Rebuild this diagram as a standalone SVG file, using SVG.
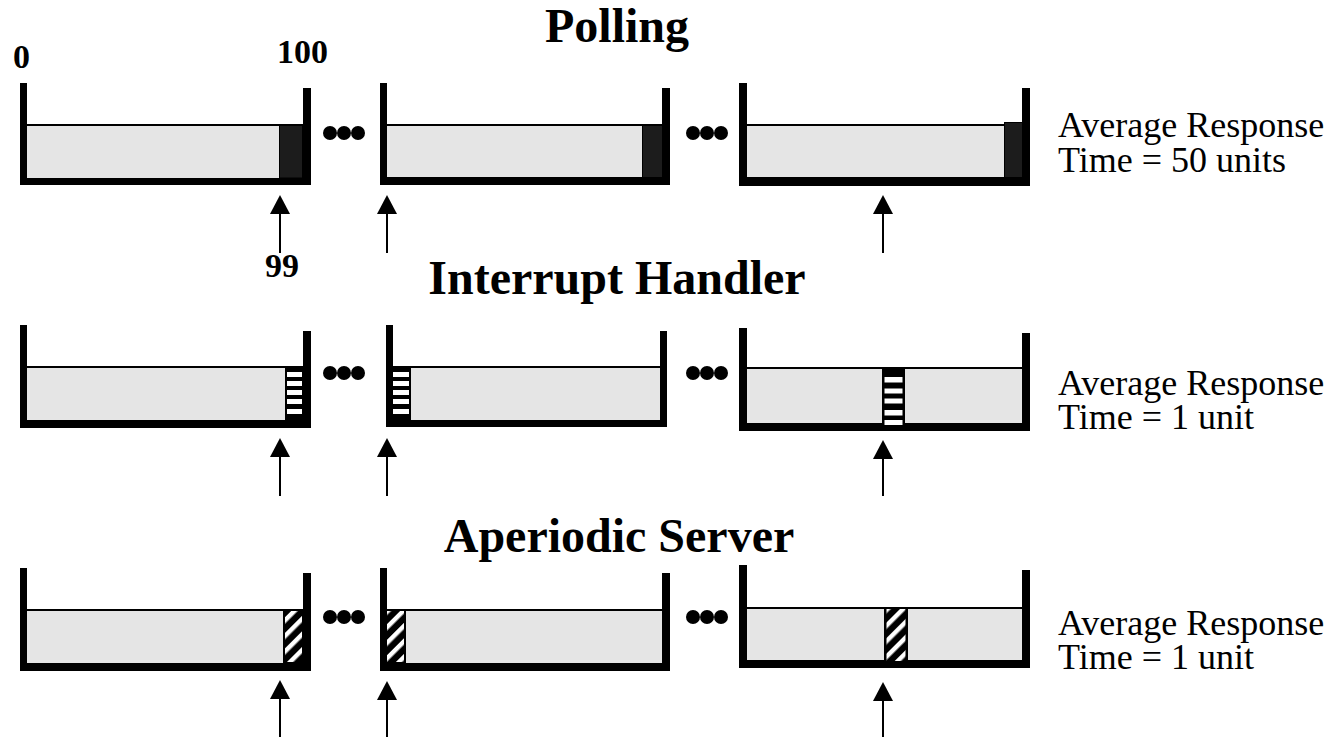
<svg xmlns="http://www.w3.org/2000/svg" width="1340" height="737" viewBox="0 0 1340 737">
<style>
.wall{fill:#000}
.fill{fill:#e5e5e5}
.top{stroke:#000;stroke-width:2}
.dark{fill:#1c1c1c;stroke:#000;stroke-width:1}
.blk{fill:#000}
.wb{fill:#fff}
.hat{fill:url(#hatch)}
.dot{fill:#000}
.arrow{stroke:#000;stroke-width:2;fill:none;marker-end:url(#ah)}
.title{font-family:"Liberation Serif",serif;font-weight:bold;font-size:48px;text-anchor:middle;fill:#000}
.num{font-family:"Liberation Serif",serif;font-weight:bold;font-size:34px;fill:#000}
.note{font-family:"Liberation Serif",serif;font-size:36px;fill:#000}
</style>
<defs>
<marker id="ah" markerUnits="userSpaceOnUse" markerWidth="20" markerHeight="20" refX="14" refY="10" orient="auto" viewBox="0 0 20 20">
<path d="M0,0 L19,10 L0,20 Z" fill="#000"/>
</marker>
<pattern id="hatch" patternUnits="userSpaceOnUse" width="11" height="11" patternTransform="rotate(45)">
<rect width="11" height="11" fill="#000"/>
<rect width="4.5" height="11" fill="#fff"/>
</pattern>
</defs>

<g id="titles">
<text class="title" x="617" y="42">Polling</text>
<text class="title" x="617" y="294">Interrupt Handler</text>
<text class="title" x="619" y="552">Aperiodic Server</text>
</g>

<g id="labels">
<text class="num" x="13" y="68">0</text>
<text class="num" x="277" y="63">100</text>
<text class="num" x="265" y="277">99</text>
</g>

<!-- Row 1: Polling -->
<g id="poll-c1">
<rect class="fill" x="27" y="125" width="276" height="53"/>
<line class="top" x1="27" y1="125" x2="303" y2="125"/>
<rect class="dark" x="279.5" y="125.5" width="23" height="52.5"/>
<rect class="wall" x="20" y="83" width="7" height="102"/>
<rect class="wall" x="303" y="88" width="8" height="97"/>
<rect class="wall" x="20" y="178" width="291" height="7"/>
</g>
<g id="poll-c2">
<rect class="fill" x="387" y="125" width="275" height="53"/>
<line class="top" x1="387" y1="125" x2="662" y2="125"/>
<rect class="dark" x="642.5" y="125.5" width="20" height="52.5"/>
<rect class="wall" x="380" y="83" width="7" height="102"/>
<rect class="wall" x="662" y="88" width="8" height="97"/>
<rect class="wall" x="380" y="177" width="290" height="8"/>
</g>
<g id="poll-c3">
<rect class="fill" x="747" y="125" width="275" height="53"/>
<line class="top" x1="747" y1="125" x2="1022" y2="125"/>
<rect class="dark" x="1004.5" y="122.5" width="18" height="55.5"/>
<rect class="wall" x="739" y="83" width="8" height="102"/>
<rect class="wall" x="1022" y="88" width="8" height="98"/>
<rect class="wall" x="739" y="177" width="291" height="9"/>
</g>
<g id="poll-note">
<text class="note" x="1058" y="137">Average Response</text>
<text class="note" x="1058" y="172">Time = 50 units</text>
</g>

<!-- Row 2: Interrupt Handler -->
<g id="int-c1">
<rect class="fill" x="27" y="367" width="276" height="53"/>
<line class="top" x1="27" y1="367" x2="303" y2="367"/>
<rect class="blk" x="285" y="367" width="18" height="53"/>
<rect class="wb" x="287" y="372" width="15" height="5"/>
<rect class="wb" x="287" y="381" width="15" height="5"/>
<rect class="wb" x="287" y="390" width="15" height="5"/>
<rect class="wb" x="287" y="399" width="15" height="5"/>
<rect class="wb" x="287" y="409" width="15" height="5"/>
<rect class="wall" x="20" y="325" width="7" height="103"/>
<rect class="wall" x="303" y="331" width="8" height="97"/>
<rect class="wall" x="20" y="420" width="291" height="8"/>
</g>
<g id="int-c2">
<rect class="fill" x="393" y="367" width="267" height="53"/>
<line class="top" x1="393" y1="367" x2="660" y2="367"/>
<rect class="blk" x="392" y="367" width="19" height="53"/>
<rect class="wb" x="393" y="372" width="16" height="5"/>
<rect class="wb" x="393" y="381" width="16" height="5"/>
<rect class="wb" x="393" y="390" width="16" height="5"/>
<rect class="wb" x="393" y="399" width="16" height="5"/>
<rect class="wb" x="393" y="409" width="16" height="5"/>
<rect class="wall" x="386" y="325" width="7" height="102"/>
<rect class="wall" x="660" y="331" width="7" height="96"/>
<rect class="wall" x="386" y="420" width="281" height="7"/>
</g>
<g id="int-c3">
<rect class="fill" x="747" y="368" width="275" height="55"/>
<line class="top" x1="747" y1="368" x2="1022" y2="368"/>
<rect class="wall" x="739" y="328" width="8" height="103"/>
<rect class="wall" x="1022" y="333" width="8" height="98"/>
<rect class="wall" x="739" y="423" width="291" height="8"/>
<rect class="blk" x="882" y="368" width="23" height="58"/>
<rect class="wb" x="884.5" y="377" width="18" height="5.5"/>
<rect class="wb" x="884.5" y="388.5" width="18" height="5"/>
<rect class="wb" x="884.5" y="398.5" width="18" height="5"/>
<rect class="wb" x="884.5" y="410" width="18" height="5.5"/>
<rect class="wb" x="884.5" y="420" width="18" height="5"/>
</g>
<g id="int-note">
<text class="note" x="1058" y="395">Average Response</text>
<text class="note" x="1058" y="429">Time = 1 unit</text>
</g>

<!-- Row 3: Aperiodic Server -->
<g id="ap-c1">
<rect class="fill" x="27" y="610" width="276" height="53"/>
<line class="top" x1="27" y1="610" x2="303" y2="610"/>
<rect class="blk" x="283" y="609" width="20" height="54"/>
<rect class="hat" x="285" y="611" width="17" height="51"/>
<rect class="wall" x="20" y="568" width="7" height="103"/>
<rect class="wall" x="303" y="573" width="8" height="98"/>
<rect class="wall" x="20" y="663" width="291" height="8"/>
</g>
<g id="ap-c2">
<rect class="fill" x="387" y="610" width="275" height="53"/>
<line class="top" x1="387" y1="610" x2="662" y2="610"/>
<rect class="blk" x="386" y="609" width="20" height="54"/>
<rect class="hat" x="387" y="611" width="17" height="51"/>
<rect class="wall" x="380" y="568" width="7" height="103"/>
<rect class="wall" x="662" y="573" width="8" height="98"/>
<rect class="wall" x="380" y="663" width="290" height="8"/>
</g>
<g id="ap-c3">
<rect class="fill" x="747" y="608" width="275" height="53"/>
<line class="top" x1="747" y1="608" x2="1022" y2="608"/>
<rect class="wall" x="739" y="565" width="8" height="103"/>
<rect class="wall" x="1022" y="570" width="8" height="98"/>
<rect class="wall" x="739" y="660" width="291" height="8"/>
<rect class="blk" x="884" y="607" width="24" height="55"/>
<rect class="hat" x="886.5" y="609" width="19" height="52"/>
</g>
<g id="ap-note">
<text class="note" x="1058" y="635">Average Response</text>
<text class="note" x="1058" y="669">Time = 1 unit</text>
</g>

<g id="ellipses">
<circle class="dot" cx="330" cy="133" r="7"/><circle class="dot" cx="344" cy="133" r="7"/><circle class="dot" cx="358" cy="133" r="7"/>
<circle class="dot" cx="693" cy="133" r="7"/><circle class="dot" cx="707" cy="133" r="7"/><circle class="dot" cx="721" cy="133" r="7"/>
<circle class="dot" cx="330" cy="373" r="7"/><circle class="dot" cx="344" cy="373" r="7"/><circle class="dot" cx="358" cy="373" r="7"/>
<circle class="dot" cx="693" cy="373" r="7"/><circle class="dot" cx="707" cy="373" r="7"/><circle class="dot" cx="721" cy="373" r="7"/>
<circle class="dot" cx="330" cy="617" r="7"/><circle class="dot" cx="344" cy="617" r="7"/><circle class="dot" cx="358" cy="617" r="7"/>
<circle class="dot" cx="693" cy="617" r="7"/><circle class="dot" cx="707" cy="617" r="7"/><circle class="dot" cx="721" cy="617" r="7"/>
</g>

<g id="connectors">
<line class="arrow" x1="280" y1="253" x2="280" y2="200"/>
<line class="arrow" x1="387" y1="253" x2="387" y2="200"/>
<line class="arrow" x1="883" y1="253" x2="883" y2="200"/>
<line class="arrow" x1="280" y1="496" x2="280" y2="443"/>
<line class="arrow" x1="387" y1="496" x2="387" y2="443"/>
<line class="arrow" x1="883" y1="496" x2="883" y2="445"/>
<line class="arrow" x1="280" y1="737" x2="280" y2="685"/>
<line class="arrow" x1="387" y1="737" x2="387" y2="686"/>
<line class="arrow" x1="883" y1="737" x2="883" y2="687"/>
</g>
</svg>
